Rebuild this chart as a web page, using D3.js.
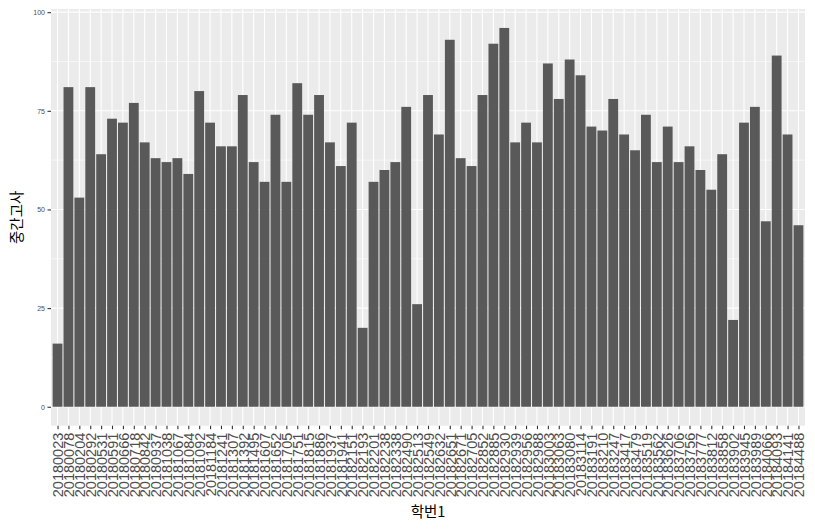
<!DOCTYPE html>
<html>
<head>
<meta charset="utf-8">
<script src="https://cdn.jsdelivr.net/npm/d3@7"></script>
<style>
  html, body { margin: 0; padding: 0; background: #fff; }
  svg { display: block; }
</style>
</head>
<body>
<svg id="chart" width="815" height="530"></svg>
<script>
const studentIds = [
  "20180023","20180078","20180204","20180292","20180531","20180591","20180666","20180718","20180842","20180937",
  "20181038","20181067","20181084","20181092","20181184","20181241","20181307","20181392","20181495","20181607",
  "20181652","20181705","20181751","20181815","20181886","20181937","20181941","20182151","20182193","20182201",
  "20182238","20182338","20182490","20182513","20182549","20182632","20182651","20182671","20182705","20182852",
  "20182885","20182930","20182939","20182956","20182988","20183003","20183063","20183080","20183114","20183191",
  "20183210","20183247","20183417","20183479","20183519","20183562","20183626","20183706","20183756","20183777",
  "20183812","20183858","20183902","20183945","20183989","20184066","20184093","20184141","20184488"
];
const midtermScores = [
  16,81,53,81,64,73,72,77,67,63,
  62,63,59,80,72,66,66,79,62,57,
  74,57,82,74,79,67,61,72,20,57,
  60,62,76,26,79,69,93,63,61,79,
  92,96,67,72,67,87,78,88,84,71,
  70,78,69,65,74,62,71,62,66,60,
  55,64,22,72,76,47,89,69,46
];
const yTicks = [0, 25, 50, 75, 100];
const yMinorTicks = [12.5, 37.5, 62.5, 87.5];
const xTitle = "학번1";
const yTitle = "중간고사";

const svg = d3.select("#chart");
const panel = { left: 51, right: 805, top: 9, bottom: 425.7 };

const n = studentIds.length;
const step = (panel.right - panel.left) / (n - 1 + 1.2);
const x = d3.scaleBand()
  .domain(studentIds)
  .range([panel.left + 0.6 * step - step / 2, panel.right - 0.6 * step + step / 2])
  .paddingInner(0.1)
  .paddingOuter(0.05);
// use point scale for centers to mimic ggplot discrete expansion
const xc = d3.scalePoint()
  .domain(studentIds)
  .range([panel.left + 0.6 * step, panel.right - 0.6 * step]);
const barW = step * 0.9;

const y = d3.scaleLinear().domain([-4.8, 100.8]).range([panel.bottom, panel.top]);

// panel background
svg.append("rect")
  .attr("x", panel.left).attr("y", panel.top)
  .attr("width", panel.right - panel.left).attr("height", panel.bottom - panel.top)
  .attr("fill", "#EBEBEB");

// minor grid
svg.append("g").selectAll("line").data(yMinorTicks).join("line")
  .attr("x1", panel.left).attr("x2", panel.right)
  .attr("y1", d => y(d)).attr("y2", d => y(d))
  .attr("stroke", "#fff").attr("stroke-width", 0.55);

// major grid y
svg.append("g").selectAll("line").data(yTicks).join("line")
  .attr("x1", panel.left).attr("x2", panel.right)
  .attr("y1", d => y(d)).attr("y2", d => y(d))
  .attr("stroke", "#fff").attr("stroke-width", 1.1);

// major grid x
svg.append("g").selectAll("line").data(studentIds).join("line")
  .attr("x1", d => xc(d)).attr("x2", d => xc(d))
  .attr("y1", panel.top).attr("y2", panel.bottom)
  .attr("stroke", "#fff").attr("stroke-width", 1.1);

// bars
svg.append("g").selectAll("rect").data(studentIds).join("rect")
  .attr("x", (d) => xc(d) - barW / 2)
  .attr("width", barW)
  .attr("y", (d, i) => y(midtermScores[i]))
  .attr("height", (d, i) => y(0) - y(midtermScores[i]))
  .attr("fill", "#595959");

// y axis
const yAxis = d3.axisLeft(y).tickValues(yTicks).tickSize(3.5).tickPadding(2.5);
const gy = svg.append("g").attr("transform", `translate(${panel.left},0)`).call(yAxis);
gy.select(".domain").remove();
gy.selectAll(".tick line").attr("stroke", "#333333").attr("stroke-width", 1.1);
gy.selectAll(".tick text")
  .attr("fill", "#4D4D4D")
  .style("font-family", "'Liberation Sans', Arial, sans-serif")
  .style("font-size", "7px");

// x axis
const xAxis = d3.axisBottom(xc).tickSize(3.5).tickPadding(2);
const gx = svg.append("g").attr("transform", `translate(0,${panel.bottom})`).call(xAxis);
gx.select(".domain").remove();
gx.selectAll(".tick line").attr("stroke", "#333333").attr("stroke-width", 1.1);
gx.selectAll(".tick text")
  .attr("fill", "#4D4D4D")
  .style("font-family", "'Liberation Sans', Arial, sans-serif")
  .style("font-size", "14.5px")
  .attr("transform", "rotate(-90)")
  .attr("text-anchor", "end")
  .attr("x", -7)
  .attr("y", 0)
  .attr("dy", "0.36em");

// axis titles
svg.append("text")
  .attr("x", (panel.left + panel.right) / 2)
  .attr("y", 517)
  .attr("text-anchor", "middle")
  .attr("fill", "#000")
  .style("font-family", "'Noto Sans CJK KR', sans-serif")
  .style("font-size", "14.5px")
  .text(xTitle);

svg.append("text")
  .attr("transform", `translate(22,${(panel.top + panel.bottom) / 2}) rotate(-90)`)
  .attr("text-anchor", "middle")
  .attr("fill", "#000")
  .style("font-family", "'Noto Sans CJK KR', sans-serif")
  .style("font-size", "14.5px")
  .text(yTitle);
</script>
</body>
</html>
